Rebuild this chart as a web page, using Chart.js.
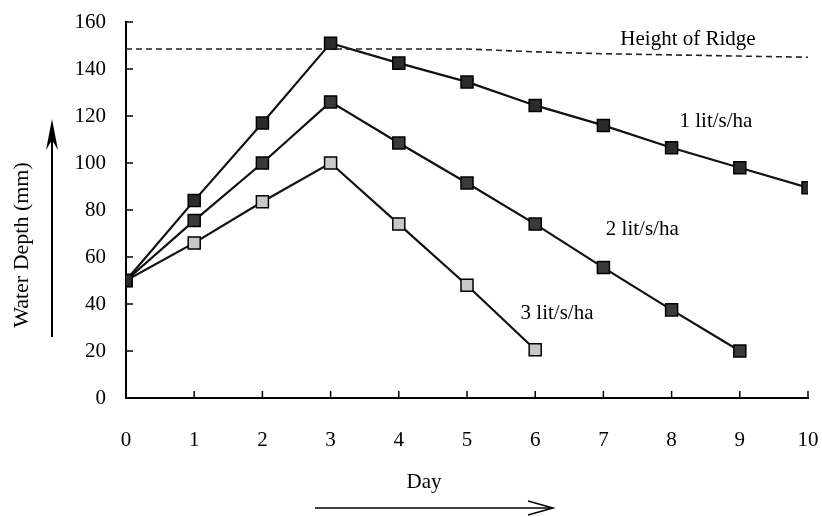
<!DOCTYPE html>
<html>
<head>
<meta charset="utf-8">
<script src="https://cdn.jsdelivr.net/npm/chart.js@4/dist/chart.umd.min.js"></script>
<style>
  html, body { margin: 0; padding: 0; background: #fff; }
  #wrap { width: 822px; height: 517px; }
</style>
</head>
<body>
<div id="wrap"><canvas id="depth"></canvas></div>
<script>
// values
const days = [0, 1, 2, 3, 4, 5, 6, 7, 8, 9, 10];
const rate1 = [50, 84, 117, 151, 142.5, 134.5, 124.5, 116, 106.5, 98, 89.5];
const rate2 = [50, 75.5, 100, 126, 108.5, 91.5, 74, 55.5, 37.5, 20];
const rate3 = [50, 66, 83.5, 100, 74, 48, 20.5];
const ridge = [148.5, 148.5, 148.5, 148.5, 148.5, 148.5, 147.3, 146.5, 146, 145.5, 145];
const xTicks = [0, 1, 2, 3, 4, 5, 6, 7, 8, 9, 10];
const yTicks = [0, 20, 40, 60, 80, 100, 120, 140, 160];

const serif = "'Liberation Serif', 'DejaVu Serif', serif";

function pts(vals) {
  return vals.map((v, i) => ({ x: days[i], y: v }));
}

// notes placed in data units
const notes = [
  { text: "Height of Ridge", x: 8.24, y: 152.5 },
  { text: "1 lit/s/ha", x: 8.65, y: 117.5 },
  { text: "2 lit/s/ha", x: 7.57, y: 71.5 },
  { text: "3 lit/s/ha", x: 6.32, y: 36 },
];

// inward ticks, titles with arrows, notes
const extras = {
  id: "extras",
  afterDraw(chart) {
    const c = chart.ctx;
    const xs = chart.scales.x, ys = chart.scales.y;
    const a = chart.chartArea;
    c.save();
    c.strokeStyle = "#000";
    c.lineWidth = 1.5;
    xTicks.forEach((t) => {
      const px = xs.getPixelForValue(t);
      c.beginPath(); c.moveTo(px, a.bottom); c.lineTo(px, a.bottom - 7); c.stroke();
    });
    yTicks.forEach((t) => {
      const py = ys.getPixelForValue(t);
      c.beginPath(); c.moveTo(a.left, py); c.lineTo(a.left + 7, py); c.stroke();
    });

    c.fillStyle = "#000";
    c.font = "21px " + serif;
    c.textAlign = "center";
    c.textBaseline = "middle";
    notes.forEach((n) => {
      c.fillText(n.text, xs.getPixelForValue(n.x), ys.getPixelForValue(n.y));
    });

    // y title + arrow
    c.save();
    c.translate(22, 245);
    c.rotate(-Math.PI / 2);
    c.font = "22px " + serif;
    c.fillText("Water Depth (mm)", 0, 0);
    c.restore();
    c.lineWidth = 2;
    c.beginPath(); c.moveTo(52, 337); c.lineTo(52, 124); c.stroke();
    c.beginPath();
    c.moveTo(52, 119); c.lineTo(46, 150); c.lineTo(52, 140); c.lineTo(58, 150); c.closePath();
    c.fill();

    // x title + arrow
    c.font = "21px " + serif;
    c.fillText("Day", 424, 482);
    c.lineWidth = 1.5;
    c.beginPath(); c.moveTo(315, 508); c.lineTo(550, 508); c.stroke();
    c.beginPath();
    c.moveTo(528, 501); c.lineTo(553, 508); c.lineTo(528, 515);
    c.stroke();
    c.restore();
  },
};

function lineSet(label, vals, fill) {
  return {
    label: label,
    data: pts(vals),
    borderColor: "#111",
    borderWidth: 2.2,
    pointStyle: "rect",
    pointRadius: 8.5,
    pointBackgroundColor: fill,
    pointBorderColor: "#000",
    pointBorderWidth: 1.5,
    tension: 0,
  };
}

new Chart("depth", {
  type: "line",
  data: {
    datasets: [
      {
        label: "Height of Ridge",
        data: pts(ridge),
        borderColor: "#222",
        borderWidth: 1.6,
        borderDash: [6, 4],
        pointRadius: 0,
        tension: 0,
      },
      lineSet("1 lit/s/ha", rate1, "#2b2b2b"),
      lineSet("2 lit/s/ha", rate2, "#3a3a3a"),
      lineSet("3 lit/s/ha", rate3, "#c8c8c8"),
    ],
  },
  options: {
    responsive: true,
    maintainAspectRatio: false,
    animation: false,
    layout: { padding: { top: 22, right: 14, left: 0, bottom: 0 } },
    plugins: { legend: { display: false }, tooltip: { enabled: false } },
    scales: {
      x: {
        type: "linear",
        min: 0,
        max: 10,
        afterBuildTicks: (s) => { s.ticks = xTicks.map((v) => ({ value: v })); },
        afterFit: (s) => {
          s.height = 119;
          s.paddingLeft = 0; s.paddingRight = 0;
        },
        grid: { display: false, drawTicks: false },
        border: { display: true, color: "#000", width: 2 },
        ticks: {
          padding: 30,
          color: "#000",
          font: { family: serif, size: 21 },
        },
      },
      y: {
        min: 0,
        max: 160,
        afterBuildTicks: (s) => { s.ticks = yTicks.map((v) => ({ value: v })); },
        afterFit: (s) => {
          s.width = 126;
          s.paddingTop = 0; s.paddingBottom = 0;
        },
        grid: { display: false, drawTicks: false },
        border: { display: true, color: "#000", width: 2 },
        ticks: {
          padding: 20,
          color: "#000",
          font: { family: serif, size: 21 },
        },
      },
    },
  },
  plugins: [extras],
});
</script>
</body>
</html>
